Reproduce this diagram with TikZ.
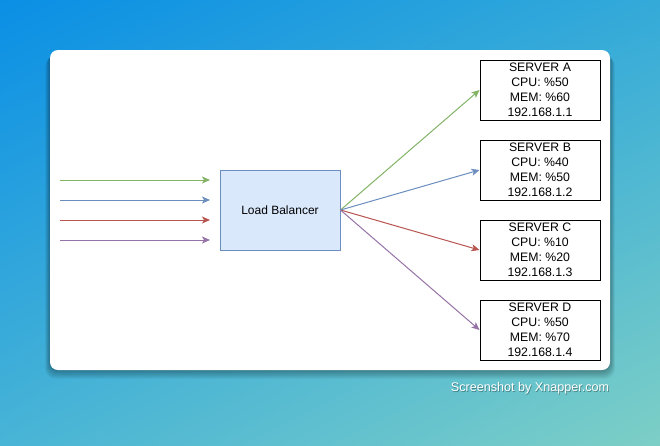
\documentclass[tikz,border=0pt]{standalone}
\usepackage{fontspec}
\setmainfont{Liberation Sans}
\usepackage{xcolor}
\usetikzlibrary{arrows.meta,shadings}
\definecolor{bgtl}{HTML}{0A8FE5}
\definecolor{bgtr}{HTML}{34AAD9}
\definecolor{bgbl}{HTML}{48B4D6}
\definecolor{bgbr}{HTML}{7DCFC6}
\definecolor{green}{HTML}{82B366}
\definecolor{blue}{HTML}{6C8EBF}
\definecolor{red}{HTML}{B85450}
\definecolor{purple}{HTML}{9673A6}
\definecolor{lbfill}{HTML}{DAE8FC}
\tikzset{
  flow/.style={line width=1pt, -{Stealth[length=8pt,width=7pt,inset=2pt]}},
  lbbox/.style={draw=blue, fill=lbfill, line width=1pt, minimum width=120pt, minimum height=80pt,
    inner sep=0pt, font=\fontsize{12}{15}\selectfont},
  srvbox/.style={draw=black, fill=white, line width=1pt, minimum width=120pt, minimum height=60pt,
    inner sep=0pt, align=center, font=\fontsize{12.3}{15}\selectfont},
  foot/.style={font=\fontsize{12.6}{14}\selectfont}
}
\begin{document}
\begin{tikzpicture}[x=1pt,y=-1pt]
  \useasboundingbox (0,0) rectangle (660,445);
  % background
  \shade[upper left=bgtl, upper right=bgtr, lower left=bgbl, lower right=bgbr] (0,0) rectangle (660,445);
  % card with shadow
  \foreach \k in {1,...,8}
    \fill[black, opacity=0.045, rounded corners=10pt] (50-\k*0.6,50+\k*0.8) rectangle (610+\k*0.6,370+\k*1.1);
  \fill[white, rounded corners=8pt] (50,50) rectangle (610,370);

  \node[lbbox] (lb) at (280,210) {Load Balancer};

  \node[srvbox] (srvA) at (540,90)  {SERVER A\\CPU: \%50\\MEM: \%60\\192.168.1.1};
  \node[srvbox] (srvB) at (540,170) {SERVER B\\CPU: \%40\\MEM: \%50\\192.168.1.2};
  \node[srvbox] (srvC) at (540,250) {SERVER C\\CPU: \%10\\MEM: \%20\\192.168.1.3};
  \node[srvbox] (srvD) at (540,330) {SERVER D\\CPU: \%50\\MEM: \%70\\192.168.1.4};

  % incoming requests
  \coordinate (inG) at (60,180);
  \coordinate (inB) at (60,200);
  \coordinate (inR) at (60,220);
  \coordinate (inP) at (60,240);
  \coordinate (toG) at (210,180);
  \coordinate (toB) at (210,200);
  \coordinate (toR) at (210,220);
  \coordinate (toP) at (210,240);
  \draw[flow, green]  (inG) -- (toG);
  \draw[flow, blue]   (inB) -- (toB);
  \draw[flow, red]    (inR) -- (toR);
  \draw[flow, purple] (inP) -- (toP);

  % distribution
  \draw[flow, green]  (lb.east) -- (srvA.west);
  \draw[flow, blue]   (lb.east) -- (srvB.west);
  \draw[flow, red]    (lb.east) -- (srvC.west);
  \draw[flow, purple] (lb.east) -- (srvD.west);

  \node[foot, text=black, opacity=0.35] at (530.8,389) {Screenshot by Xnapper.com};
  \node[foot, text=white] (credit) at (530,388) {Screenshot by Xnapper.com};
\end{tikzpicture}
\end{document}
